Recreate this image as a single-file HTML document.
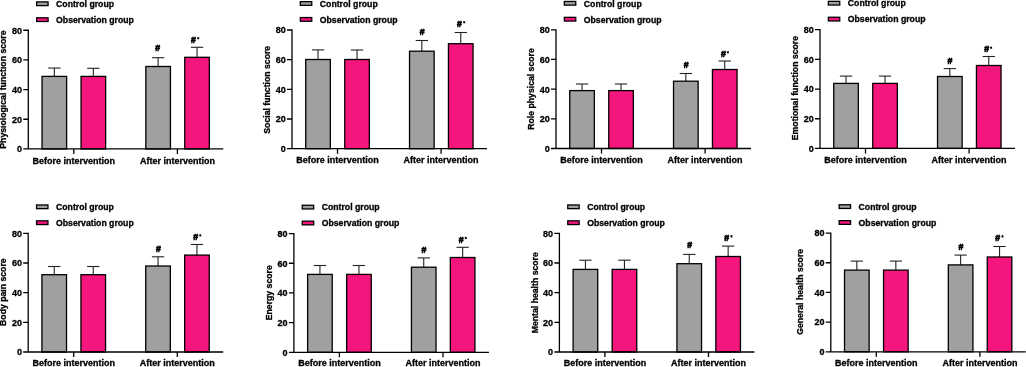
<!DOCTYPE html>
<html><head><meta charset="utf-8"><style>
html,body{margin:0;padding:0;background:#fff;}
svg{display:block;will-change:transform;}
text{font-family:'Liberation Sans',sans-serif;font-weight:bold;fill:#000;stroke:#000;stroke-width:0.3px;}
</style></head><body>
<svg width="1026" height="367" viewBox="0 0 1026 367">
<rect width="1026" height="367" fill="#fff"/>
<rect x="36.65" y="1.9" width="11.4" height="3.7" fill="#a0a0a0" stroke="#000" stroke-width="1.3"/>
<text x="56.1" y="6.95" font-size="8.7">Control group</text>
<rect x="36.65" y="17.8" width="11.4" height="3.7" fill="#f5167d" stroke="#000" stroke-width="1.3"/>
<text x="56.1" y="22.95" font-size="8.7">Observation group</text>
<line x1="54.33" y1="76.4" x2="54.33" y2="68.05" stroke="#222" stroke-width="1.1"/>
<line x1="48.18" y1="68.05" x2="60.48" y2="68.05" stroke="#222" stroke-width="1.1"/>
<rect x="42.03" y="76.4" width="24.6" height="72.55" fill="#a0a0a0" stroke="#000" stroke-width="1.3"/>
<line x1="93.35" y1="76.4" x2="93.35" y2="68.3" stroke="#222" stroke-width="1.1"/>
<line x1="87.2" y1="68.3" x2="99.5" y2="68.3" stroke="#222" stroke-width="1.1"/>
<rect x="81.05" y="76.4" width="24.6" height="72.55" fill="#f5167d" stroke="#000" stroke-width="1.3"/>
<line x1="158.13" y1="66.5" x2="158.13" y2="57.7" stroke="#222" stroke-width="1.1"/>
<line x1="151.98" y1="57.7" x2="164.28" y2="57.7" stroke="#222" stroke-width="1.1"/>
<rect x="145.83" y="66.5" width="24.6" height="82.45" fill="#a0a0a0" stroke="#000" stroke-width="1.3"/>
<line x1="197.05" y1="57.3" x2="197.05" y2="47.3" stroke="#222" stroke-width="1.1"/>
<line x1="190.9" y1="47.3" x2="203.2" y2="47.3" stroke="#222" stroke-width="1.1"/>
<rect x="184.75" y="57.3" width="24.6" height="91.65" fill="#f5167d" stroke="#000" stroke-width="1.3"/>
<path d="M23.3 30.25H28.3V148.95M23.3 148.95H223.3" fill="none" stroke="#000" stroke-width="1.3"/>
<path d="M23.3 119.27H28.3M23.3 89.6H28.3M23.3 59.92H28.3M73.8 148.95V153.95M177.4 148.95V153.95" fill="none" stroke="#000" stroke-width="1.3"/>
<text x="22" y="152.3" font-size="9" text-anchor="end">0</text>
<text x="22" y="122.62" font-size="9" text-anchor="end">20</text>
<text x="22" y="92.95" font-size="9" text-anchor="end">40</text>
<text x="22" y="63.27" font-size="9" text-anchor="end">60</text>
<text x="22" y="33.6" font-size="9" text-anchor="end">80</text>
<text x="73.8" y="163.65" font-size="9" text-anchor="middle">Before intervention</text>
<text x="177.4" y="163.65" font-size="9" text-anchor="middle">After intervention</text>
<text x="157.7" y="50.65" font-size="8.7" text-anchor="middle" style="stroke-width:0.6px">#</text>
<text x="193.5" y="42.65" font-size="8.7" text-anchor="middle" style="stroke-width:0.6px">#</text>
<path d="M198.2 37V39.4M197.16 37.6L199.24 38.8M197.16 38.8L199.24 37.6" stroke="#000" stroke-width="0.9" fill="none"/>
<text transform="translate(6.4 89.55) rotate(-90)" x="0" y="0" font-size="8.7" text-anchor="middle">Physiological function score</text>
<rect x="300.35" y="1.65" width="11.4" height="3.7" fill="#a0a0a0" stroke="#000" stroke-width="1.3"/>
<text x="319.8" y="6.7" font-size="8.7">Control group</text>
<rect x="300.35" y="17.55" width="11.4" height="3.7" fill="#f5167d" stroke="#000" stroke-width="1.3"/>
<text x="319.8" y="22.7" font-size="8.7">Observation group</text>
<line x1="318.03" y1="59.5" x2="318.03" y2="49.9" stroke="#222" stroke-width="1.1"/>
<line x1="311.88" y1="49.9" x2="324.18" y2="49.9" stroke="#222" stroke-width="1.1"/>
<rect x="305.73" y="59.5" width="24.6" height="89.2" fill="#a0a0a0" stroke="#000" stroke-width="1.3"/>
<line x1="357.05" y1="59.5" x2="357.05" y2="50" stroke="#222" stroke-width="1.1"/>
<line x1="350.9" y1="50" x2="363.2" y2="50" stroke="#222" stroke-width="1.1"/>
<rect x="344.75" y="59.5" width="24.6" height="89.2" fill="#f5167d" stroke="#000" stroke-width="1.3"/>
<line x1="421.83" y1="51.2" x2="421.83" y2="40.5" stroke="#222" stroke-width="1.1"/>
<line x1="415.68" y1="40.5" x2="427.98" y2="40.5" stroke="#222" stroke-width="1.1"/>
<rect x="409.53" y="51.2" width="24.6" height="97.5" fill="#a0a0a0" stroke="#000" stroke-width="1.3"/>
<line x1="460.75" y1="43.7" x2="460.75" y2="32.5" stroke="#222" stroke-width="1.1"/>
<line x1="454.6" y1="32.5" x2="466.9" y2="32.5" stroke="#222" stroke-width="1.1"/>
<rect x="448.45" y="43.7" width="24.6" height="105" fill="#f5167d" stroke="#000" stroke-width="1.3"/>
<path d="M287 30H292V148.7M287 148.7H487" fill="none" stroke="#000" stroke-width="1.3"/>
<path d="M287 119.02H292M287 89.35H292M287 59.67H292M337.5 148.7V153.7M441.1 148.7V153.7" fill="none" stroke="#000" stroke-width="1.3"/>
<text x="285.7" y="152.05" font-size="9" text-anchor="end">0</text>
<text x="285.7" y="122.37" font-size="9" text-anchor="end">20</text>
<text x="285.7" y="92.7" font-size="9" text-anchor="end">40</text>
<text x="285.7" y="63.02" font-size="9" text-anchor="end">60</text>
<text x="285.7" y="33.35" font-size="9" text-anchor="end">80</text>
<text x="337.5" y="163.4" font-size="9" text-anchor="middle">Before intervention</text>
<text x="441.1" y="163.4" font-size="9" text-anchor="middle">After intervention</text>
<text x="422.2" y="34.85" font-size="8.7" text-anchor="middle" style="stroke-width:0.6px">#</text>
<text x="459.5" y="26.65" font-size="8.7" text-anchor="middle" style="stroke-width:0.6px">#</text>
<path d="M464.2 21V23.4M463.16 21.6L465.24 22.8M463.16 22.8L465.24 21.6" stroke="#000" stroke-width="0.9" fill="none"/>
<text transform="translate(270.1 89.75) rotate(-90)" x="0" y="0" font-size="8.7" text-anchor="middle">Social function score</text>
<rect x="564.35" y="1.45" width="11.4" height="3.7" fill="#a0a0a0" stroke="#000" stroke-width="1.3"/>
<text x="583.8" y="6.5" font-size="8.7">Control group</text>
<rect x="564.35" y="17.35" width="11.4" height="3.7" fill="#f5167d" stroke="#000" stroke-width="1.3"/>
<text x="583.8" y="22.5" font-size="8.7">Observation group</text>
<line x1="582.03" y1="90.6" x2="582.03" y2="84" stroke="#222" stroke-width="1.1"/>
<line x1="575.88" y1="84" x2="588.18" y2="84" stroke="#222" stroke-width="1.1"/>
<rect x="569.73" y="90.6" width="24.6" height="57.9" fill="#a0a0a0" stroke="#000" stroke-width="1.3"/>
<line x1="621.05" y1="90.6" x2="621.05" y2="84" stroke="#222" stroke-width="1.1"/>
<line x1="614.9" y1="84" x2="627.2" y2="84" stroke="#222" stroke-width="1.1"/>
<rect x="608.75" y="90.6" width="24.6" height="57.9" fill="#f5167d" stroke="#000" stroke-width="1.3"/>
<line x1="685.83" y1="81.2" x2="685.83" y2="73.5" stroke="#222" stroke-width="1.1"/>
<line x1="679.68" y1="73.5" x2="691.98" y2="73.5" stroke="#222" stroke-width="1.1"/>
<rect x="673.53" y="81.2" width="24.6" height="67.3" fill="#a0a0a0" stroke="#000" stroke-width="1.3"/>
<line x1="724.75" y1="69.5" x2="724.75" y2="61" stroke="#222" stroke-width="1.1"/>
<line x1="718.6" y1="61" x2="730.9" y2="61" stroke="#222" stroke-width="1.1"/>
<rect x="712.45" y="69.5" width="24.6" height="79" fill="#f5167d" stroke="#000" stroke-width="1.3"/>
<path d="M551 29.8H556V148.5M551 148.5H751" fill="none" stroke="#000" stroke-width="1.3"/>
<path d="M551 118.83H556M551 89.15H556M551 59.47H556M601.5 148.5V153.5M705.1 148.5V153.5" fill="none" stroke="#000" stroke-width="1.3"/>
<text x="549.7" y="151.85" font-size="9" text-anchor="end">0</text>
<text x="549.7" y="122.17" font-size="9" text-anchor="end">20</text>
<text x="549.7" y="92.5" font-size="9" text-anchor="end">40</text>
<text x="549.7" y="62.82" font-size="9" text-anchor="end">60</text>
<text x="549.7" y="33.15" font-size="9" text-anchor="end">80</text>
<text x="601.5" y="163.2" font-size="9" text-anchor="middle">Before intervention</text>
<text x="705.1" y="163.2" font-size="9" text-anchor="middle">After intervention</text>
<text x="686.1" y="67.95" font-size="8.7" text-anchor="middle" style="stroke-width:0.6px">#</text>
<text x="723.5" y="56.55" font-size="8.7" text-anchor="middle" style="stroke-width:0.6px">#</text>
<path d="M727.9 51.1V53.5M726.86 51.7L728.94 52.9M726.86 52.9L728.94 51.7" stroke="#000" stroke-width="0.9" fill="none"/>
<text transform="translate(533.8 89) rotate(-90)" x="0" y="0" font-size="8.7" text-anchor="middle">Role physical score</text>
<rect x="828.35" y="1.35" width="11.4" height="3.7" fill="#a0a0a0" stroke="#000" stroke-width="1.3"/>
<text x="847.8" y="6.4" font-size="8.7">Control group</text>
<rect x="828.35" y="17.25" width="11.4" height="3.7" fill="#f5167d" stroke="#000" stroke-width="1.3"/>
<text x="847.8" y="22.4" font-size="8.7">Observation group</text>
<line x1="846.03" y1="83.4" x2="846.03" y2="76.1" stroke="#222" stroke-width="1.1"/>
<line x1="839.88" y1="76.1" x2="852.18" y2="76.1" stroke="#222" stroke-width="1.1"/>
<rect x="833.73" y="83.4" width="24.6" height="65" fill="#a0a0a0" stroke="#000" stroke-width="1.3"/>
<line x1="885.05" y1="83.4" x2="885.05" y2="76.1" stroke="#222" stroke-width="1.1"/>
<line x1="878.9" y1="76.1" x2="891.2" y2="76.1" stroke="#222" stroke-width="1.1"/>
<rect x="872.75" y="83.4" width="24.6" height="65" fill="#f5167d" stroke="#000" stroke-width="1.3"/>
<line x1="949.83" y1="76.5" x2="949.83" y2="68.6" stroke="#222" stroke-width="1.1"/>
<line x1="943.68" y1="68.6" x2="955.98" y2="68.6" stroke="#222" stroke-width="1.1"/>
<rect x="937.53" y="76.5" width="24.6" height="71.9" fill="#a0a0a0" stroke="#000" stroke-width="1.3"/>
<line x1="988.75" y1="65.5" x2="988.75" y2="56.5" stroke="#222" stroke-width="1.1"/>
<line x1="982.6" y1="56.5" x2="994.9" y2="56.5" stroke="#222" stroke-width="1.1"/>
<rect x="976.45" y="65.5" width="24.6" height="82.9" fill="#f5167d" stroke="#000" stroke-width="1.3"/>
<path d="M815 29.7H820V148.4M815 148.4H1015" fill="none" stroke="#000" stroke-width="1.3"/>
<path d="M815 118.73H820M815 89.05H820M815 59.38H820M865.5 148.4V153.4M969.1 148.4V153.4" fill="none" stroke="#000" stroke-width="1.3"/>
<text x="813.7" y="151.75" font-size="9" text-anchor="end">0</text>
<text x="813.7" y="122.08" font-size="9" text-anchor="end">20</text>
<text x="813.7" y="92.4" font-size="9" text-anchor="end">40</text>
<text x="813.7" y="62.73" font-size="9" text-anchor="end">60</text>
<text x="813.7" y="33.05" font-size="9" text-anchor="end">80</text>
<text x="865.5" y="163.1" font-size="9" text-anchor="middle">Before intervention</text>
<text x="969.1" y="163.1" font-size="9" text-anchor="middle">After intervention</text>
<text x="950" y="63.65" font-size="8.7" text-anchor="middle" style="stroke-width:0.6px">#</text>
<text x="986.6" y="51.95" font-size="8.7" text-anchor="middle" style="stroke-width:0.6px">#</text>
<path d="M991.1 46.5V48.9M990.06 47.1L992.14 48.3M990.06 48.3L992.14 47.1" stroke="#000" stroke-width="0.9" fill="none"/>
<text transform="translate(797.6 88.05) rotate(-90)" x="0" y="0" font-size="8.7" text-anchor="middle">Emotional function score</text>
<rect x="36.55" y="204.95" width="11.4" height="3.7" fill="#a0a0a0" stroke="#000" stroke-width="1.3"/>
<text x="56" y="210" font-size="8.7">Control group</text>
<rect x="36.55" y="220.85" width="11.4" height="3.7" fill="#f5167d" stroke="#000" stroke-width="1.3"/>
<text x="56" y="226" font-size="8.7">Observation group</text>
<line x1="54.23" y1="274.7" x2="54.23" y2="266.5" stroke="#222" stroke-width="1.1"/>
<line x1="48.08" y1="266.5" x2="60.38" y2="266.5" stroke="#222" stroke-width="1.1"/>
<rect x="41.93" y="274.7" width="24.6" height="77.3" fill="#a0a0a0" stroke="#000" stroke-width="1.3"/>
<line x1="93.25" y1="274.7" x2="93.25" y2="266.5" stroke="#222" stroke-width="1.1"/>
<line x1="87.1" y1="266.5" x2="99.4" y2="266.5" stroke="#222" stroke-width="1.1"/>
<rect x="80.95" y="274.7" width="24.6" height="77.3" fill="#f5167d" stroke="#000" stroke-width="1.3"/>
<line x1="158.03" y1="266" x2="158.03" y2="256.8" stroke="#222" stroke-width="1.1"/>
<line x1="151.88" y1="256.8" x2="164.18" y2="256.8" stroke="#222" stroke-width="1.1"/>
<rect x="145.73" y="266" width="24.6" height="86" fill="#a0a0a0" stroke="#000" stroke-width="1.3"/>
<line x1="196.95" y1="255.1" x2="196.95" y2="244.5" stroke="#222" stroke-width="1.1"/>
<line x1="190.8" y1="244.5" x2="203.1" y2="244.5" stroke="#222" stroke-width="1.1"/>
<rect x="184.65" y="255.1" width="24.6" height="96.9" fill="#f5167d" stroke="#000" stroke-width="1.3"/>
<path d="M23.2 233.3H28.2V352M23.2 352H223.2" fill="none" stroke="#000" stroke-width="1.3"/>
<path d="M23.2 322.32H28.2M23.2 292.65H28.2M23.2 262.98H28.2M73.7 352V357M177.3 352V357" fill="none" stroke="#000" stroke-width="1.3"/>
<text x="21.9" y="355.35" font-size="9" text-anchor="end">0</text>
<text x="21.9" y="325.68" font-size="9" text-anchor="end">20</text>
<text x="21.9" y="296" font-size="9" text-anchor="end">40</text>
<text x="21.9" y="266.33" font-size="9" text-anchor="end">60</text>
<text x="21.9" y="236.65" font-size="9" text-anchor="end">80</text>
<text x="73.7" y="366.1" font-size="9" text-anchor="middle">Before intervention</text>
<text x="177.3" y="366.1" font-size="9" text-anchor="middle">After intervention</text>
<text x="158.3" y="251.75" font-size="8.7" text-anchor="middle" style="stroke-width:0.6px">#</text>
<text x="195.6" y="239.65" font-size="8.7" text-anchor="middle" style="stroke-width:0.6px">#</text>
<path d="M200.3 234.2V236.6M199.26 234.8L201.34 236M199.26 236L201.34 234.8" stroke="#000" stroke-width="0.9" fill="none"/>
<text transform="translate(6.4 292.15) rotate(-90)" x="0" y="0" font-size="8.7" text-anchor="middle">Body pain score</text>
<rect x="302.25" y="205.25" width="11.4" height="3.7" fill="#a0a0a0" stroke="#000" stroke-width="1.3"/>
<text x="321.7" y="210.3" font-size="8.7">Control group</text>
<rect x="302.25" y="221.15" width="11.4" height="3.7" fill="#f5167d" stroke="#000" stroke-width="1.3"/>
<text x="321.7" y="226.3" font-size="8.7">Observation group</text>
<line x1="319.93" y1="274.4" x2="319.93" y2="265.5" stroke="#222" stroke-width="1.1"/>
<line x1="313.78" y1="265.5" x2="326.08" y2="265.5" stroke="#222" stroke-width="1.1"/>
<rect x="307.63" y="274.4" width="24.6" height="77.9" fill="#a0a0a0" stroke="#000" stroke-width="1.3"/>
<line x1="358.95" y1="274.4" x2="358.95" y2="265.5" stroke="#222" stroke-width="1.1"/>
<line x1="352.8" y1="265.5" x2="365.1" y2="265.5" stroke="#222" stroke-width="1.1"/>
<rect x="346.65" y="274.4" width="24.6" height="77.9" fill="#f5167d" stroke="#000" stroke-width="1.3"/>
<line x1="423.73" y1="267.2" x2="423.73" y2="257.9" stroke="#222" stroke-width="1.1"/>
<line x1="417.58" y1="257.9" x2="429.88" y2="257.9" stroke="#222" stroke-width="1.1"/>
<rect x="411.43" y="267.2" width="24.6" height="85.1" fill="#a0a0a0" stroke="#000" stroke-width="1.3"/>
<line x1="462.65" y1="257.5" x2="462.65" y2="247.3" stroke="#222" stroke-width="1.1"/>
<line x1="456.5" y1="247.3" x2="468.8" y2="247.3" stroke="#222" stroke-width="1.1"/>
<rect x="450.35" y="257.5" width="24.6" height="94.8" fill="#f5167d" stroke="#000" stroke-width="1.3"/>
<path d="M288.9 233.6H293.9V352.3M288.9 352.3H488.9" fill="none" stroke="#000" stroke-width="1.3"/>
<path d="M288.9 322.62H293.9M288.9 292.95H293.9M288.9 263.27H293.9M339.4 352.3V357.3M443 352.3V357.3" fill="none" stroke="#000" stroke-width="1.3"/>
<text x="287.6" y="355.65" font-size="9" text-anchor="end">0</text>
<text x="287.6" y="325.98" font-size="9" text-anchor="end">20</text>
<text x="287.6" y="296.3" font-size="9" text-anchor="end">40</text>
<text x="287.6" y="266.62" font-size="9" text-anchor="end">60</text>
<text x="287.6" y="236.95" font-size="9" text-anchor="end">80</text>
<text x="339.4" y="366.4" font-size="9" text-anchor="middle">Before intervention</text>
<text x="443" y="366.4" font-size="9" text-anchor="middle">After intervention</text>
<text x="423.9" y="253.45" font-size="8.7" text-anchor="middle" style="stroke-width:0.6px">#</text>
<text x="461.1" y="242.65" font-size="8.7" text-anchor="middle" style="stroke-width:0.6px">#</text>
<path d="M465.8 236.8V239.2M464.76 237.4L466.84 238.6M464.76 238.6L466.84 237.4" stroke="#000" stroke-width="0.9" fill="none"/>
<text transform="translate(271.8 292.75) rotate(-90)" x="0" y="0" font-size="8.7" text-anchor="middle">Energy score</text>
<rect x="567.75" y="204.95" width="11.4" height="3.7" fill="#a0a0a0" stroke="#000" stroke-width="1.3"/>
<text x="587.2" y="210" font-size="8.7">Control group</text>
<rect x="567.75" y="220.85" width="11.4" height="3.7" fill="#f5167d" stroke="#000" stroke-width="1.3"/>
<text x="587.2" y="226" font-size="8.7">Observation group</text>
<line x1="585.43" y1="269.4" x2="585.43" y2="260.2" stroke="#222" stroke-width="1.1"/>
<line x1="579.28" y1="260.2" x2="591.58" y2="260.2" stroke="#222" stroke-width="1.1"/>
<rect x="573.13" y="269.4" width="24.6" height="82.6" fill="#a0a0a0" stroke="#000" stroke-width="1.3"/>
<line x1="624.45" y1="269.4" x2="624.45" y2="260.2" stroke="#222" stroke-width="1.1"/>
<line x1="618.3" y1="260.2" x2="630.6" y2="260.2" stroke="#222" stroke-width="1.1"/>
<rect x="612.15" y="269.4" width="24.6" height="82.6" fill="#f5167d" stroke="#000" stroke-width="1.3"/>
<line x1="689.23" y1="263.7" x2="689.23" y2="254.4" stroke="#222" stroke-width="1.1"/>
<line x1="683.08" y1="254.4" x2="695.38" y2="254.4" stroke="#222" stroke-width="1.1"/>
<rect x="676.93" y="263.7" width="24.6" height="88.3" fill="#a0a0a0" stroke="#000" stroke-width="1.3"/>
<line x1="728.15" y1="256.5" x2="728.15" y2="246.1" stroke="#222" stroke-width="1.1"/>
<line x1="722" y1="246.1" x2="734.3" y2="246.1" stroke="#222" stroke-width="1.1"/>
<rect x="715.85" y="256.5" width="24.6" height="95.5" fill="#f5167d" stroke="#000" stroke-width="1.3"/>
<path d="M554.4 233.3H559.4V352M554.4 352H754.4" fill="none" stroke="#000" stroke-width="1.3"/>
<path d="M554.4 322.32H559.4M554.4 292.65H559.4M554.4 262.98H559.4M604.9 352V357M708.5 352V357" fill="none" stroke="#000" stroke-width="1.3"/>
<text x="553.1" y="355.35" font-size="9" text-anchor="end">0</text>
<text x="553.1" y="325.68" font-size="9" text-anchor="end">20</text>
<text x="553.1" y="296" font-size="9" text-anchor="end">40</text>
<text x="553.1" y="266.33" font-size="9" text-anchor="end">60</text>
<text x="553.1" y="236.65" font-size="9" text-anchor="end">80</text>
<text x="604.9" y="366.1" font-size="9" text-anchor="middle">Before intervention</text>
<text x="708.5" y="366.1" font-size="9" text-anchor="middle">After intervention</text>
<text x="689.7" y="248.15" font-size="8.7" text-anchor="middle" style="stroke-width:0.6px">#</text>
<text x="726.6" y="240.65" font-size="8.7" text-anchor="middle" style="stroke-width:0.6px">#</text>
<path d="M731.5 235.1V237.5M730.46 235.7L732.54 236.9M730.46 236.9L732.54 235.7" stroke="#000" stroke-width="0.9" fill="none"/>
<text transform="translate(537.8 292.75) rotate(-90)" x="0" y="0" font-size="8.7" text-anchor="middle">Mental health score</text>
<rect x="839.15" y="204.75" width="11.4" height="3.7" fill="#a0a0a0" stroke="#000" stroke-width="1.3"/>
<text x="858.6" y="209.8" font-size="8.7">Control group</text>
<rect x="839.15" y="220.65" width="11.4" height="3.7" fill="#f5167d" stroke="#000" stroke-width="1.3"/>
<text x="858.6" y="225.8" font-size="8.7">Observation group</text>
<line x1="856.83" y1="270.1" x2="856.83" y2="261.1" stroke="#222" stroke-width="1.1"/>
<line x1="850.68" y1="261.1" x2="862.98" y2="261.1" stroke="#222" stroke-width="1.1"/>
<rect x="844.53" y="270.1" width="24.6" height="81.7" fill="#a0a0a0" stroke="#000" stroke-width="1.3"/>
<line x1="895.85" y1="270.1" x2="895.85" y2="261.1" stroke="#222" stroke-width="1.1"/>
<line x1="889.7" y1="261.1" x2="902" y2="261.1" stroke="#222" stroke-width="1.1"/>
<rect x="883.55" y="270.1" width="24.6" height="81.7" fill="#f5167d" stroke="#000" stroke-width="1.3"/>
<line x1="960.63" y1="264.9" x2="960.63" y2="255.1" stroke="#222" stroke-width="1.1"/>
<line x1="954.48" y1="255.1" x2="966.78" y2="255.1" stroke="#222" stroke-width="1.1"/>
<rect x="948.33" y="264.9" width="24.6" height="86.9" fill="#a0a0a0" stroke="#000" stroke-width="1.3"/>
<line x1="999.55" y1="257" x2="999.55" y2="246.5" stroke="#222" stroke-width="1.1"/>
<line x1="993.4" y1="246.5" x2="1005.7" y2="246.5" stroke="#222" stroke-width="1.1"/>
<rect x="987.25" y="257" width="24.6" height="94.8" fill="#f5167d" stroke="#000" stroke-width="1.3"/>
<path d="M825.8 233.1H830.8V351.8M825.8 351.8H1025.8" fill="none" stroke="#000" stroke-width="1.3"/>
<path d="M825.8 322.12H830.8M825.8 292.45H830.8M825.8 262.77H830.8M876.3 351.8V356.8M979.9 351.8V356.8" fill="none" stroke="#000" stroke-width="1.3"/>
<text x="824.5" y="355.15" font-size="9" text-anchor="end">0</text>
<text x="824.5" y="325.48" font-size="9" text-anchor="end">20</text>
<text x="824.5" y="295.8" font-size="9" text-anchor="end">40</text>
<text x="824.5" y="266.12" font-size="9" text-anchor="end">60</text>
<text x="824.5" y="236.45" font-size="9" text-anchor="end">80</text>
<text x="876.3" y="365.9" font-size="9" text-anchor="middle">Before intervention</text>
<text x="979.9" y="365.9" font-size="9" text-anchor="middle">After intervention</text>
<text x="960.9" y="249.85" font-size="8.7" text-anchor="middle" style="stroke-width:0.6px">#</text>
<text x="997.6" y="240.65" font-size="8.7" text-anchor="middle" style="stroke-width:0.6px">#</text>
<path d="M1002.5 235.2V237.6M1001.46 235.8L1003.54 237M1001.46 237L1003.54 235.8" stroke="#000" stroke-width="0.9" fill="none"/>
<text transform="translate(802.6 291.85) rotate(-90)" x="0" y="0" font-size="8.7" text-anchor="middle">General health score</text>
</svg>
</body></html>
